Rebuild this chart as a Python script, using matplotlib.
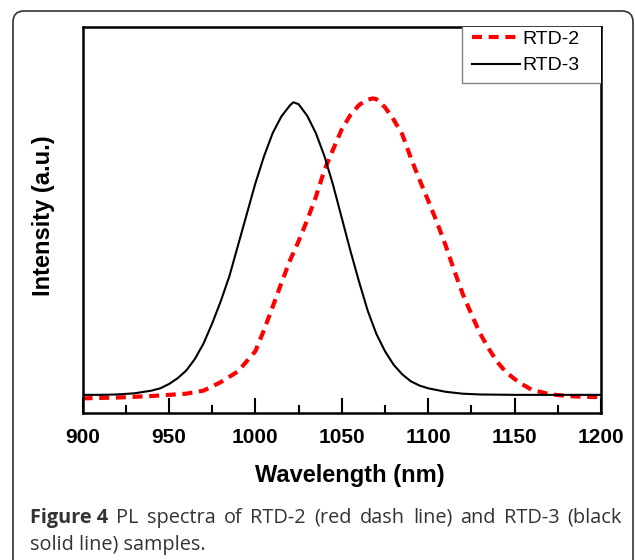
import matplotlib
matplotlib.use("Agg")
import matplotlib.pyplot as plt
from matplotlib.patches import FancyBboxPatch, Rectangle
from matplotlib.transforms import IdentityTransform

# PL spectra (intensity normalised, arbitrary units)
wl_rtd3 = [900, 910, 920, 930, 940, 945, 950, 955, 960, 965, 970, 975, 980, 985,
           990, 995, 1000, 1005, 1010, 1015, 1020, 1022, 1025, 1030, 1035, 1040,
           1045, 1050, 1055, 1060, 1065, 1070, 1075, 1080, 1085, 1090, 1095, 1100,
           1110, 1120, 1130, 1150, 1200]
int_rtd3 = [0.047, 0.047, 0.048, 0.051, 0.058, 0.064, 0.075, 0.090, 0.110, 0.140,
            0.180, 0.232, 0.290, 0.355, 0.435, 0.515, 0.595, 0.665, 0.725, 0.768,
            0.797, 0.805, 0.800, 0.770, 0.725, 0.665, 0.590, 0.505, 0.420, 0.340,
            0.265, 0.205, 0.160, 0.125, 0.100, 0.082, 0.071, 0.064, 0.055, 0.050,
            0.048, 0.047, 0.047]

wl_rtd2 = [900, 910, 920, 930, 940, 950, 960, 970, 980, 990, 1000, 1005, 1010, 1015,
           1020, 1025, 1030, 1035, 1040, 1045, 1050, 1055, 1060, 1065, 1068, 1070,
           1075, 1080, 1085, 1090, 1095, 1100, 1105, 1110, 1115, 1120, 1125, 1130,
           1135, 1140, 1145, 1150, 1155, 1160, 1170, 1180, 1190, 1200]
int_rtd2 = [0.038, 0.039, 0.040, 0.042, 0.044, 0.047, 0.050, 0.058, 0.080, 0.108,
            0.160, 0.215, 0.275, 0.336, 0.395, 0.445, 0.500, 0.560, 0.630, 0.683,
            0.735, 0.772, 0.798, 0.812, 0.815, 0.813, 0.792, 0.760, 0.722, 0.660,
            0.604, 0.550, 0.495, 0.435, 0.370, 0.308, 0.256, 0.206, 0.167, 0.132,
            0.106, 0.088, 0.073, 0.060, 0.049, 0.044, 0.042, 0.041]

xticks = [900, 950, 1000, 1050, 1100, 1150, 1200]
minor_xticks = [925, 975, 1025, 1075, 1125, 1175]

caption_head = "Figure 4"
caption_line1 = "PL spectra of RTD-2 (red dash line) and RTD-3 (black"
caption_line2 = "solid line) samples."

W, H = 635, 560
fig = plt.figure(figsize=(W / 100, H / 100), dpi=100)

# rounded frame around the whole figure
frame = FancyBboxPatch((13, -30), 620, 579, boxstyle="round,pad=0,rounding_size=11",
                       transform=IdentityTransform(), facecolor="white",
                       edgecolor="#333333", linewidth=1.2, zorder=-10)
fig.patches.append(frame)

ax = fig.add_axes([0.130, 0.2625, 0.8165, 0.6893])
ax.plot(wl_rtd2, int_rtd2, color="red", lw=3, dashes=(2.4, 1.6), label="RTD-2")
ax.plot(wl_rtd3, int_rtd3, color="black", lw=1.5, label="RTD-3")

ax.set_xlim(900, 1200)
ax.set_ylim(0, 1)
ax.set_xticks(xticks)
ax.set_xticklabels([str(t) for t in xticks], fontfamily="Liberation Sans",
                   fontweight="bold", fontsize=15)
ax.set_xticks(minor_xticks, minor=True)
ax.set_yticks([])
ax.tick_params(axis="x", which="major", direction="in", length=10.5, width=1.5, pad=11)
ax.tick_params(axis="x", which="minor", direction="in", length=5.8, width=1.5)
for s in ax.spines.values():
    s.set_linewidth(1.8)

ax.set_xlabel("Wavelength (nm)", fontfamily="Liberation Sans", fontweight="bold",
              fontsize=17, va="center")
ax.xaxis.set_label_coords(0.516, -0.161)
ax.set_ylabel("Intensity (a.u.)", fontfamily="Liberation Sans", fontweight="bold",
              fontsize=17, va="center")
ax.yaxis.set_label_coords(-0.076, 0.51)

# legend box (grey frame in the upper right corner) and entries
ax.add_patch(Rectangle((0.732, 0.855), 0.3, 0.2, transform=ax.transAxes,
                       facecolor="white", edgecolor="#808080", lw=1.0, zorder=3))
leg = ax.legend(loc="upper left", bbox_to_anchor=(0.751, 0.991), frameon=False,
                borderaxespad=0, borderpad=0, handlelength=2.47, handletextpad=0.15,
                labelspacing=0.45, prop={"family": "Liberation Sans", "size": 14})
leg.set_zorder(4)

# caption, first line justified between x=30 and x=622
renderer = fig.canvas.get_renderer()
cap_kw = dict(fontsize=14.3, va="center", color="#333333", fontfamily="Open Sans")
y1 = 1 - 518 / H
y2 = 1 - 545 / H
head = fig.text(30 / W, y1, caption_head, fontweight="bold", **cap_kw)
words = caption_line1.split()
texts = [fig.text(0, y1, w_, **cap_kw) for w_ in words]
w_head = head.get_window_extent(renderer).width
widths = [t.get_window_extent(renderer).width for t in texts]
gap = (622 - 30 - w_head - sum(widths)) / len(words)
x = 30 + w_head + gap
for t, w_ in zip(texts, widths):
    t.set_x(x / W)
    x += w_ + gap
fig.text(30 / W, y2, caption_line2, **cap_kw)

fig.savefig("out.png", dpi=100)
